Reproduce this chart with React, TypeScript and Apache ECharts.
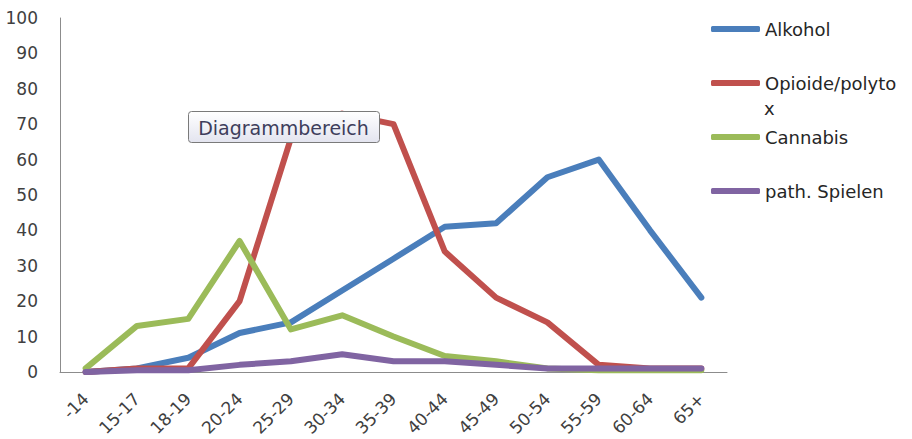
import React, { useEffect, useRef } from "react";
import * as echarts from "echarts";

const categories = ["-14", "15-17", "18-19", "20-24", "25-29", "30-34", "35-39", "40-44", "45-49", "50-54", "55-59", "60-64", "65+"];
const alkohol = [0, 1, 4, 11, 14, 23, 32, 41, 42, 55, 60, 40, 21];
const opioide = [0, 1, 1, 20, 66, 73, 70, 34, 21, 14, 2, 1, 1];
const cannabis = [1, 13, 15, 37, 12, 16, 10, 4.5, 3, 1, 0.5, 0.5, 0.5];
const spielen = [0, 0.5, 0.5, 2, 3, 5, 3, 3, 2, 1, 1, 1, 1];
const yTicks = [0, 100, 10];

const seriesNames = ["Alkohol", "Opioide/polytox", "Cannabis", "path. Spielen"];
const legendLabels = ["Alkohol", "Opioide/polyto", "Cannabis", "path. Spielen"];
const colors = ["#4A7EBB", "#C0504D", "#9BBB59", "#8064A2"];
const seriesData = [alkohol, opioide, cannabis, spielen];
const legendTops = [20, 74, 128, 182];

export default function App() {
  const ref = useRef<HTMLDivElement>(null);
  useEffect(() => {
    const chart = echarts.init(ref.current!, null, { renderer: "svg" });
    const font = "'DejaVu Sans', sans-serif";
    chart.setOption({
      animation: false,
      backgroundColor: "#ffffff",
      grid: { left: 60, right: 185, top: 18, bottom: 67 },
      xAxis: {
        type: "category",
        data: categories,
        boundaryGap: true,
        axisLine: { lineStyle: { color: "#8c8c8c", width: 1 } },
        axisTick: { show: false },
        axisLabel: { rotate: 45, margin: 24, fontSize: 17, color: "#404040", fontFamily: font, interval: 0 },
      },
      yAxis: {
        type: "value",
        min: yTicks[0],
        max: yTicks[1],
        interval: yTicks[2],
        splitLine: { show: false },
        axisLine: { show: true, lineStyle: { color: "#8c8c8c", width: 1 } },
        axisTick: { show: false },
        axisLabel: { margin: 22, fontSize: 17, color: "#404040", fontFamily: font },
      },
      legend: seriesNames.map((n, i) => ({
        data: [n],
        orient: "vertical",
        left: 711,
        top: legendTops[i],
        padding: 0,
        icon: "roundRect",
        itemWidth: 49,
        itemHeight: 6,
        itemGap: 0,
        selectedMode: false,
        formatter: () => legendLabels[i],
        textStyle: { fontSize: 18, color: "#262626", fontFamily: font },
      })),
      series: seriesNames.map((n, i) => ({
        name: n,
        type: "line",
        data: seriesData[i],
        showSymbol: false,
        symbol: "none",
        color: colors[i],
        lineStyle: { width: 6, color: colors[i], cap: "round", join: "round" },
        z: 2 + i,
      })),
      graphic: [
        {
          type: "text",
          left: 764,
          top: 99,
          z: 100,
          style: { text: "x", fontSize: 18, fontFamily: font, fill: "#262626" },
        },
        {
          type: "group",
          left: 188,
          top: 111,
          z: 100,
          zlevel: 1,
          children: [
            {
              type: "rect",
              z: 100,
              shape: { x: 0, y: 0, width: 191, height: 31, r: 3 },
              style: {
                fill: new echarts.graphic.LinearGradient(0, 0, 0, 1, [
                  { offset: 0, color: "#ffffff" },
                  { offset: 1, color: "#e3e4ef" },
                ]),
                stroke: "#7a7a7a",
                lineWidth: 1,
              },
            },
            {
              type: "text",
              z: 101,
              x: 95,
              y: 16,
              style: {
                text: "Diagrammbereich",
                fontSize: 19,
                fontFamily: font,
                fill: "#3e3e5c",
                align: "center",
                verticalAlign: "middle",
              },
            },
          ],
        },
      ],
    });
    return () => chart.dispose();
  }, []);
  return <div ref={ref} style={{ position: "fixed", left: 0, top: 0, width: 912, height: 439 }} />;
}
